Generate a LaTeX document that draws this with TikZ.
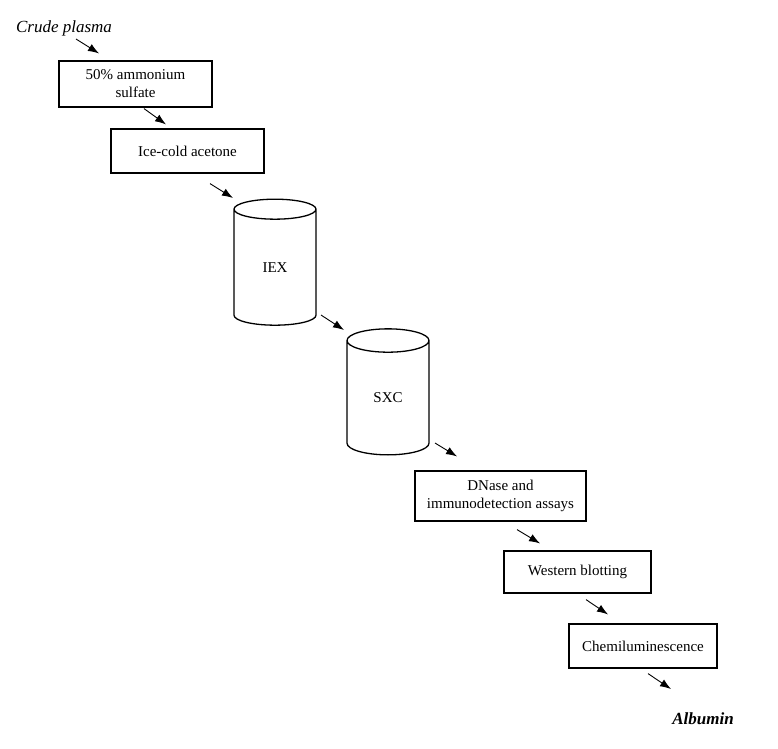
\documentclass[tikz,border=0pt]{standalone}
\usepackage{fontspec}
\setmainfont{Liberation Serif}
\usetikzlibrary{shapes.geometric,arrows.meta,calc}

\begin{document}
\begin{tikzpicture}[x=1pt,y=-1pt,
	stepbox/.style={draw,line width=1.2pt,align=center,inner sep=0pt,font=\fontsize{15}{18}\selectfont},
	column/.style={draw,line width=1.3pt,cylinder,shape border rotate=90,aspect=0.8,minimum width=82pt,minimum height=126pt,inner sep=0pt,font=\fontsize{15}{18}\selectfont},
	tag/.style={inner sep=0pt,font=\fontsize{17}{20}\selectfont\itshape},
	flow/.style={-{Latex[length=11pt,width=8pt]},line width=0.9pt}]
	\useasboundingbox (0,0) rectangle (778,748);
	% steps of the purification
	\node[tag] (crude) at (64,28) {Crude plasma};
	\node[stepbox,minimum width=153pt,minimum height=46pt] (sulfate) at (135.5,84) {50\% ammonium\\sulfate};
	\node[stepbox,minimum width=153pt,minimum height=44pt] (acetone) at (187.5,151) {Ice-cold acetone};
	\node[column] (iex) at (275,267.5) {IEX};
	\node[column] (sxc) at (388,398) {SXC};
	\node[stepbox,minimum width=171pt,minimum height=50pt] (dnase) at (500.5,496) {DNase and\\immunodetection assays};
	\node[stepbox,minimum width=147pt,minimum height=42pt] (western) at (577.5,572) {Western blotting};
	\node[stepbox,minimum width=148pt,minimum height=44pt] (chemi) at (643,646) {Chemiluminescence};
	\node[tag,font=\fontsize{17}{20}\selectfont\bfseries\itshape] (albumin) at (703,719) {Albumin};
	% short arrows between them
	\draw[flow] ($(crude)+(12,11)$) -- ($(sulfate.north)+(-36.5,-7)$);
	\draw[flow] ($(sulfate.south)+(8.5,1)$) -- ($(acetone.north)+(-21.5,-4)$);
	\draw[flow] ($(acetone.south)+(22.5,10)$) -- ($(iex)+(-42,-69.5)$);
	\draw[flow] ($(iex)+(46,47.5)$) -- ($(sxc)+(-44,-68)$);
	\draw[flow] ($(sxc)+(47,45)$) -- ($(dnase.north)+(-43.5,-14)$);
	\draw[flow] ($(dnase.south)+(16.5,8)$) -- ($(western.north)+(-37.5,-7)$);
	\draw[flow] ($(western.south)+(8.5,6)$) -- ($(chemi.north)+(-35,-9)$);
	\draw[flow] ($(chemi.south)+(5,5)$) -- ($(albumin)+(-32,-30)$);
\end{tikzpicture}
\end{document}
